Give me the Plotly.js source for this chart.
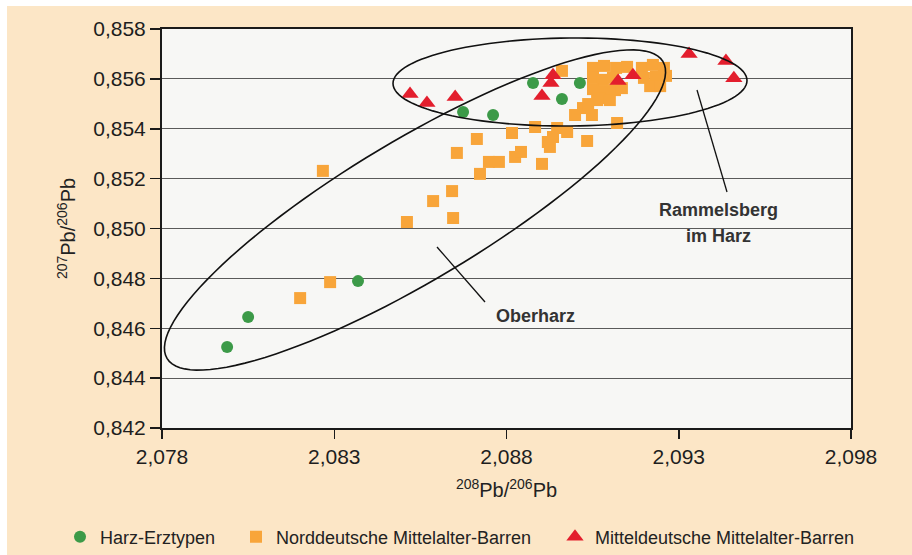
<!DOCTYPE html>
<html><head><meta charset="utf-8">
<script src="https://cdn.plot.ly/plotly-3.0.1.min.js"></script>
<style>html,body{margin:0;padding:0;background:#fff;overflow:hidden}</style>
</head><body><div id="chart" style="width:912px;height:555px"></div>
<script>
// ---- data ----
const harzX = [2.07989, 2.08050, 2.08369, 2.08674, 2.08761, 2.08877, 2.08961, 2.09013];
const harzY = [0.84525, 0.84645, 0.84789, 0.85467, 0.85455, 0.85583, 0.85519, 0.85583];

const nordX = [2.08201, 2.08288, 2.08267, 2.08511, 2.08587, 2.08642, 2.08645, 2.08656, 2.08714, 2.08723,
               2.08749, 2.08778, 2.08816, 2.08825, 2.08842, 2.08883, 2.08903, 2.08920, 2.08926, 2.08935,
               2.08947, 2.08976, 2.09034, 2.09121, 2.08961, 2.08999, 2.09022, 2.09048, 2.09037, 2.09063,
               2.09051, 2.09083, 2.09118, 2.09150, 2.09051, 2.09080, 2.09109, 2.09051, 2.09083, 2.09115,
               2.09071, 2.09100, 2.09135, 2.09193, 2.09225, 2.09257, 2.09199, 2.09234, 2.09263, 2.09217,
               2.09246];
const nordY = [0.84721, 0.84785, 0.85231, 0.85026, 0.85110, 0.85150, 0.85042, 0.85303, 0.85359, 0.85219,
               0.85267, 0.85267, 0.85383, 0.85287, 0.85307, 0.85407, 0.85259, 0.85347, 0.85327, 0.85367,
               0.85403, 0.85387, 0.85351, 0.85423, 0.85632, 0.85455, 0.85483, 0.85455, 0.85499, 0.85515,
               0.85644, 0.85652, 0.85644, 0.85648, 0.85604, 0.85596, 0.85604, 0.85559, 0.85551, 0.85555,
               0.85523, 0.85515, 0.85563, 0.85644, 0.85656, 0.85644, 0.85604, 0.85608, 0.85612, 0.85571,
               0.85571];

const mittelX = [2.08520, 2.08569, 2.08651, 2.08935, 2.08929, 2.08903, 2.09124, 2.09167, 2.09330, 2.09437, 2.09460];
const mittelY = [0.85539, 0.85503, 0.85527, 0.85615, 0.85583, 0.85531, 0.85591, 0.85615, 0.85700, 0.85672, 0.85603];

const seriesNames = ['Harz-Erztypen', 'Norddeutsche Mittelalter-Barren', 'Mitteldeutsche Mittelalter-Barren'];
const xTickVals = [2.078, 2.083, 2.088, 2.093, 2.098];
const yTickVals = [0.842, 0.844, 0.846, 0.848, 0.850, 0.852, 0.854, 0.856, 0.858];

// ---- layout geometry ----
const W = 912, H = 555, ML = 162, MR = 61, MT = 29, MB = 127;
const PW = W - ML - MR, PH = H - MT - MB;
const px2x = p => (p - ML) / PW;
const px2y = p => (H - MB - p) / PH;

function ellipsePath(cx, cy, a, b, deg) {
  const th = deg * Math.PI / 180;
  let d = '';
  for (let i = 0; i <= 120; i++) {
    const t = i / 120 * 2 * Math.PI;
    const x = cx + a * Math.cos(t) * Math.cos(th) - b * Math.sin(t) * Math.sin(th);
    const y = cy - (a * Math.cos(t) * Math.sin(th) + b * Math.sin(t) * Math.cos(th));
    d += (i === 0 ? 'M' : 'L') + px2x(x).toFixed(5) + ',' + px2y(y).toFixed(5);
  }
  return d + 'Z';
}

const FONT = '"Liberation Sans", Arial, sans-serif';

const traces = [
  {x: nordX, y: nordY, name: seriesNames[1], type: 'scatter', mode: 'markers', legend: 'legend2',
   marker: {symbol: 'square', size: 12, color: '#f8a53a'}},
  {x: harzX, y: harzY, name: seriesNames[0], type: 'scatter', mode: 'markers', legend: 'legend',
   marker: {symbol: 'circle', size: 12, color: '#3c9a48'}},
  {x: mittelX, y: mittelY, name: seriesNames[2], type: 'scatter', mode: 'markers', legend: 'legend3',
   marker: {symbol: 'triangle-up', size: 15, color: '#e31e2d'}}
];

const legendBase = {orientation: 'h', yanchor: 'middle', xanchor: 'left', y: px2y(537),
  bgcolor: 'rgba(0,0,0,0)', font: {family: FONT, size: 18, color: '#222'}};

const layout = {
  width: W, height: H,
  margin: {l: ML, r: MR, t: MT, b: MB, pad: 0, autoexpand: false},
  paper_bgcolor: '#fce6c6',
  plot_bgcolor: '#f7f7f5',
  separators: ',.',
  font: {family: FONT, color: '#222'},
  showlegend: true,
  legend: Object.assign({}, legendBase, {x: px2x(60)}),
  legend2: Object.assign({}, legendBase, {x: px2x(236)}),
  legend3: Object.assign({}, legendBase, {x: px2x(555)}),
  xaxis: {
    range: [2.078, 2.098], tickvals: xTickVals, tickformat: '.3f', automargin: false,
    showgrid: false, zeroline: false,
    showline: true, linecolor: '#1a1a1a', linewidth: 2, mirror: true,
    ticks: 'outside', ticklen: 9, tickwidth: 1.5, tickcolor: '#1a1a1a',
    tickfont: {family: FONT, size: 21, color: '#1e1e1e'},
    title: {text: '<sup>208</sup>Pb/<sup>206</sup>Pb', font: {family: FONT, size: 20, color: '#222'}, standoff: 16}
  },
  yaxis: {
    range: [0.842, 0.858], tickvals: yTickVals, tickformat: '.3f', automargin: false,
    showgrid: true, gridcolor: '#5a5a5a', gridwidth: 1.2, zeroline: false,
    showline: true, linecolor: '#1a1a1a', linewidth: 2, mirror: true,
    ticks: 'outside', ticklen: 10, tickwidth: 1.5, tickcolor: '#1a1a1a',
    tickfont: {family: FONT, size: 21, color: '#1e1e1e'},
    title: {text: '<sup>207</sup>Pb/<sup>206</sup>Pb', font: {family: FONT, size: 20, color: '#222'}, standoff: 12}
  },
  shapes: [
    {type: 'rect', xref: 'paper', yref: 'paper', x0: px2x(0), x1: px2x(7), y0: px2y(H), y1: px2y(0),
     fillcolor: '#ffffff', line: {width: 0}, layer: 'below'},
    {type: 'rect', xref: 'paper', yref: 'paper', x0: px2x(0), x1: px2x(W), y0: px2y(6), y1: px2y(0),
     fillcolor: '#ffffff', line: {width: 0}, layer: 'below'},
    {type: 'path', xref: 'paper', yref: 'paper', path: ellipsePath(570, 82, 177, 44, 0.5),
     line: {color: '#111', width: 1.6}, fillcolor: 'rgba(0,0,0,0)'},
    {type: 'path', xref: 'paper', yref: 'paper', path: ellipsePath(415, 210, 289, 70, 30.9),
     line: {color: '#111', width: 1.6}, fillcolor: 'rgba(0,0,0,0)'},
    {type: 'line', xref: 'paper', yref: 'paper', x0: px2x(697), y0: px2y(90), x1: px2x(727), y1: px2y(192),
     line: {color: '#111', width: 1.3}},
    {type: 'line', xref: 'paper', yref: 'paper', x0: px2x(437), y0: px2y(247), x1: px2x(485), y1: px2y(302),
     line: {color: '#111', width: 1.3}}
  ],
  annotations: [
    {xref: 'paper', yref: 'paper', x: px2x(718), y: px2y(210), xanchor: 'center', yanchor: 'middle',
     text: '<b>Rammelsberg</b>', showarrow: false, font: {family: FONT, size: 18, color: '#333'}},
    {xref: 'paper', yref: 'paper', x: px2x(718), y: px2y(236), xanchor: 'center', yanchor: 'middle',
     text: '<b>im Harz</b>', showarrow: false, font: {family: FONT, size: 18, color: '#333'}},
    {xref: 'paper', yref: 'paper', x: px2x(535), y: px2y(316), xanchor: 'center', yanchor: 'middle',
     text: '<b>Oberharz</b>', showarrow: false, font: {family: FONT, size: 18, color: '#333'}}
  ]
};

Plotly.newPlot('chart', traces, layout, {displayModeBar: false, staticPlot: true});
</script>
</body></html>
